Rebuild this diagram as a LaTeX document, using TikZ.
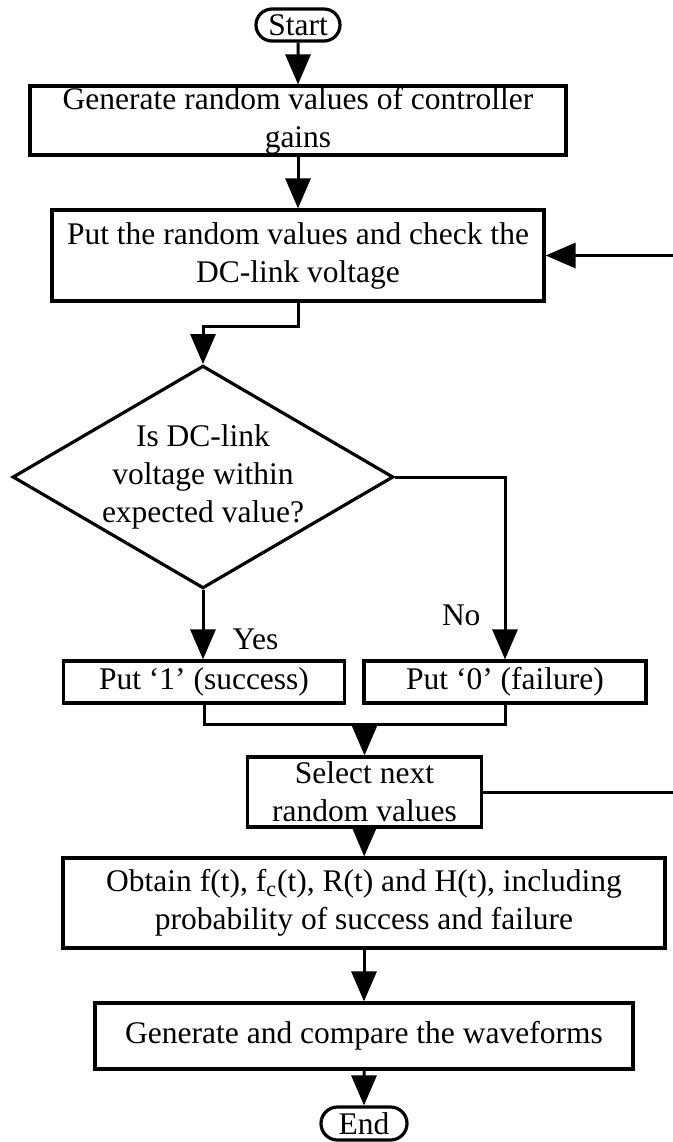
\documentclass[tikz,border=0pt]{standalone}
\usepackage{fontspec}
\setmainfont{Liberation Serif}
\usepackage{tikz}
\usetikzlibrary{positioning,shapes.geometric,shapes.misc,arrows.meta,calc}

\begin{document}
\begin{tikzpicture}[
  x=0.5pt, y=-0.5pt,
  every node/.style={font=\fontsize{15.75}{19}\selectfont},
  proc/.style ={draw, line width=1.6pt, align=center, inner sep=0pt},
  term/.style ={draw, line width=1.6pt, rounded rectangle, inner sep=0pt,
                minimum width=42pt, minimum height=16pt},
  dec/.style  ={draw, line width=1.6pt, diamond, aspect=1.71, inner sep=0pt,
                minimum width=190pt, minimum height=111pt, align=center},
  arr/.style  ={-{Triangle[length=15pt,width=12.5pt]}, line width=1.5pt},
  wire/.style ={line width=1.5pt},
  lbl/.style  ={inner sep=0pt}
]
\useasboundingbox (0,0) rectangle (673,1142);

\node[term] (start) at (298,25) {Start};

\node[proc, minimum width=268pt, minimum height=34.5pt] (gen) at (298,120.5)
     {Generate random values of controller\\gains};

\node[proc, minimum width=246pt, minimum height=45.5pt] (put) at (298,255.5)
     {Put the random values and check the\\DC-link voltage};

\node[dec] (chk) at (203,477)
     {Is DC-link\\voltage within\\expected value?};

\node[proc, minimum width=140.5pt, minimum height=21pt] (one) at (204,682)
     {Put ‘1’ (success)};

\node[proc, minimum width=141pt, minimum height=21pt] (zero) at (505,682)
     {Put ‘0’ (failure)};

\node[proc, minimum width=117pt, minimum height=35pt] (next) at (364.5,792)
     {Select next\\random values};

\node[proc, minimum width=301pt, minimum height=45pt] (obt) at (364,903)
     {Obtain f(t), f\textsubscript{c}(t), R(t) and H(t), including\\
      probability of success and failure};

\node[proc, minimum width=269pt, minimum height=33pt] (cmp) at (364,1036)
     {Generate and compare the waveforms};

\node[term, minimum width=43pt, minimum height=16.5pt] (stop) at (364,1123.5) {End};

\coordinate (rim) at (676,0);

\draw[arr] (start) -- (gen);
\draw[arr] (gen) -- (put);
\draw[arr] (put.south) -- ++(0,24) -| (chk.north);
\draw[arr] (chk.south) -- node[lbl, right=14pt, pos=.71]{Yes} (chk.south |- one.north);
\draw[arr] (chk.east) -| node[lbl, left=11.5pt, pos=.88]{No} (zero.north);
\draw[wire] (one.south) -- ++(0,20) coordinate (mj) -| (zero.south);
\draw[arr] (mj -| next.north) -- (next.north);
\draw[arr] (next.east) -- (next.east -| rim) |- (put.east);
\draw[arr] (next) -- (obt);
\draw[arr] (obt) -- (cmp);
\draw[arr] (cmp) -- (stop);

\end{tikzpicture}
\end{document}
